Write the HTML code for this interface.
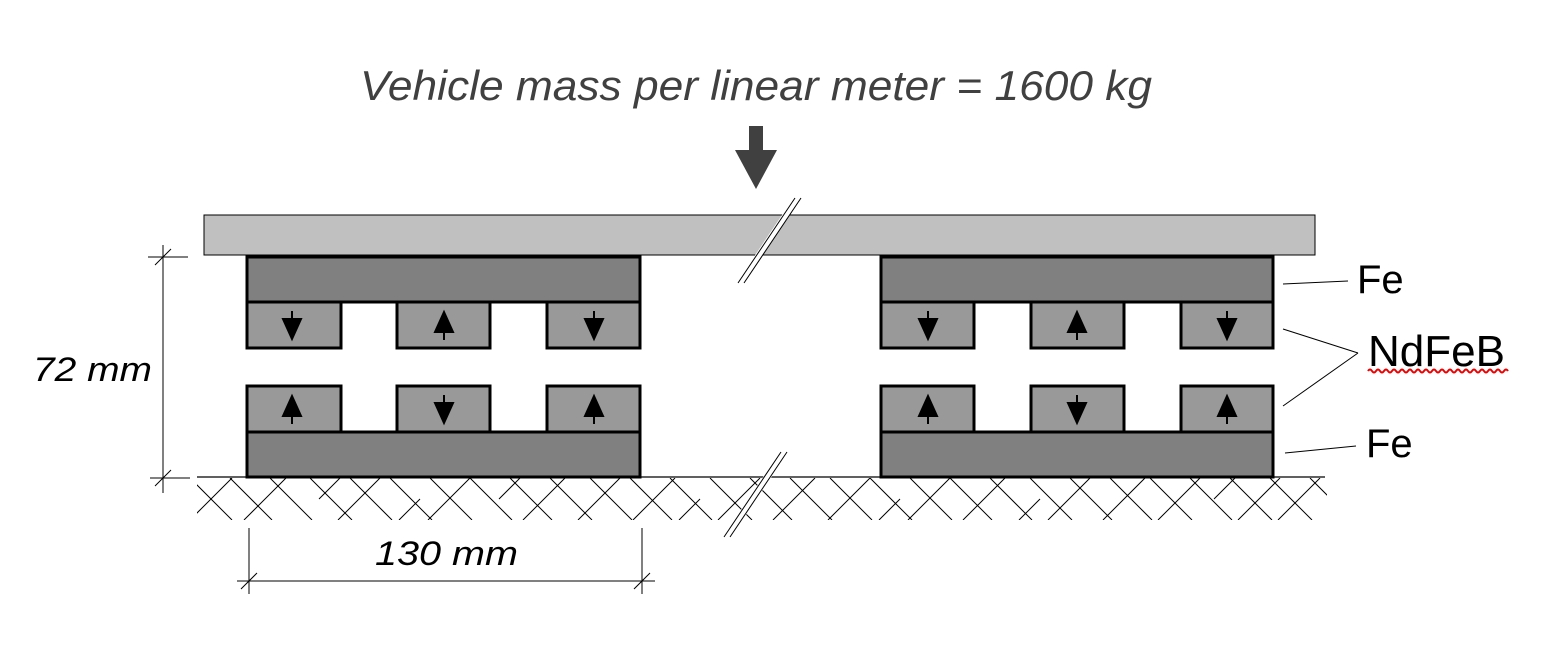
<!DOCTYPE html>
<html><head><meta charset="utf-8"><style>html,body{margin:0;padding:0;background:#fff;}svg{display:block}</style></head>
<body>
<svg width="1554" height="671" viewBox="0 0 1554 671" xmlns="http://www.w3.org/2000/svg">
<defs>
<clipPath id="gc"><rect x="197" y="478" width="1130" height="42"/></clipPath>
</defs>
<text x="360" y="100" font-family="Liberation Sans, sans-serif" font-style="italic" font-size="42" fill="#404040" textLength="792" lengthAdjust="spacingAndGlyphs">Vehicle mass per linear meter = 1600 kg</text>
<rect x="749" y="126" width="14" height="26" fill="#404040"/>
<polygon points="735,150 777,150 756,189" fill="#404040"/>
<rect x="204" y="215" width="1111" height="40" fill="#c0c0c0" stroke="#000" stroke-width="1"/>
<line x1="740" y1="283" x2="797" y2="198" stroke="#fff" stroke-width="6"/>
<line x1="738" y1="283" x2="795" y2="198" stroke="#000" stroke-width="1"/>
<line x1="744" y1="283" x2="801" y2="198" stroke="#000" stroke-width="1"/>
<line x1="197" y1="477" x2="1325" y2="477" stroke="#000" stroke-width="1.2"/>
<g clip-path="url(#gc)" stroke="#000" stroke-width="1">
<path d="M150,478 l42,42 M190,478 l42,42 M230,478 l42,42 M270,478 l42,42 M310,478 l42,42 M350,478 l42,42 M390,478 l42,42 M430,478 l42,42 M470,478 l42,42 M510,478 l42,42 M550,478 l42,42 M590,478 l42,42 M630,478 l42,42 M670,478 l42,42 M710,478 l42,42 M750,478 l42,42 M790,478 l42,42 M830,478 l42,42 M870,478 l42,42 M910,478 l42,42 M950,478 l42,42 M990,478 l42,42 M1030,478 l42,42 M1070,478 l42,42 M1110,478 l42,42 M1150,478 l42,42 M1190,478 l42,42 M1230,478 l42,42 M1270,478 l42,42 M1310,478 l42,42"/>
<path d="M232,478 l-42,42 M286,478 l-42,42 M340,478 l-21,21 M380,478 l-42,42 M420,499 l-21,21 M470,478 l-42,42 M520,478 l-21,21 M565,478 l-42,42 M620,478 l-42,42 M675,478 l-42,42 M700,499 l-21,21 M760,478 l-42,42 M815,478 l-42,42 M870,478 l-42,42 M900,499 l-21,21 M950,478 l-42,42 M1005,478 l-42,42 M1040,499 l-21,21 M1090,478 l-42,42 M1145,478 l-42,42 M1200,478 l-42,42 M1235,478 l-21,21 M1280,478 l-42,42 M1320,478 l-42,42"/>
</g>
<line x1="727" y1="537" x2="784" y2="452" stroke="#fff" stroke-width="7"/>
<line x1="724" y1="537" x2="781" y2="452" stroke="#000" stroke-width="1"/>
<line x1="730" y1="537" x2="787" y2="452" stroke="#000" stroke-width="1"/>
<g stroke="#000" stroke-width="3">
<rect x="247" y="257" width="393" height="45" fill="#808080"/>
<rect x="247" y="302" width="94" height="46" fill="#999"/>
<rect x="397" y="302" width="93" height="46" fill="#999"/>
<rect x="547" y="302" width="93" height="46" fill="#999"/>
<rect x="247" y="386" width="94" height="46" fill="#999"/>
<rect x="397" y="386" width="93" height="46" fill="#999"/>
<rect x="547" y="386" width="93" height="46" fill="#999"/>
<rect x="247" y="432" width="393" height="45" fill="#808080"/>
<rect x="881" y="257" width="392" height="45" fill="#808080"/>
<rect x="881" y="302" width="93" height="46" fill="#999"/>
<rect x="1031" y="302" width="93" height="46" fill="#999"/>
<rect x="1181" y="302" width="92" height="46" fill="#999"/>
<rect x="881" y="386" width="93" height="46" fill="#999"/>
<rect x="1031" y="386" width="93" height="46" fill="#999"/>
<rect x="1181" y="386" width="92" height="46" fill="#999"/>
<rect x="881" y="432" width="392" height="45" fill="#808080"/>
</g>
<g fill="#000" stroke="#000" stroke-width="2">
<path d="M292,311 v8 M283,319 h18 l-9,20 z"/>
<path d="M444,340 v-8 M435,332 h18 l-9,-20 z"/>
<path d="M594,311 v8 M585,319 h18 l-9,20 z"/>
<path d="M292,424 v-8 M283,416 h18 l-9,-20 z"/>
<path d="M444,395 v8 M435,403 h18 l-9,20 z"/>
<path d="M594,424 v-8 M585,416 h18 l-9,-20 z"/>
<path d="M928,311 v8 M919,319 h18 l-9,20 z"/>
<path d="M1077,340 v-8 M1068,332 h18 l-9,-20 z"/>
<path d="M1227,311 v8 M1218,319 h18 l-9,20 z"/>
<path d="M928,424 v-8 M919,416 h18 l-9,-20 z"/>
<path d="M1077,395 v8 M1068,403 h18 l-9,20 z"/>
<path d="M1227,424 v-8 M1218,416 h18 l-9,-20 z"/>
</g>
<g stroke="#000" stroke-width="1" fill="none">
<line x1="1283" y1="284" x2="1348" y2="281"/>
<line x1="1283" y1="329" x2="1358" y2="353"/>
<line x1="1283" y1="406" x2="1358" y2="353"/>
<line x1="1285" y1="453" x2="1356" y2="446"/>
</g>
<g font-family="Liberation Sans, sans-serif" font-size="40" fill="#000">
<text x="1357" y="293">Fe</text>
<text x="1368" y="366" font-size="44" textLength="137" lengthAdjust="spacingAndGlyphs">NdFeB</text>
<text x="1366" y="457">Fe</text>
</g>
<path d="M1368,371 q2,-3 4,0 t4,0 t4,0 t4,0 t4,0 t4,0 t4,0 t4,0 t4,0 t4,0 t4,0 t4,0 t4,0 t4,0 t4,0 t4,0 t4,0 t4,0 t4,0 t4,0 t4,0 t4,0 t4,0 t4,0 t4,0 t4,0 t4,0 t4,0 t4,0 t4,0 t4,0 t4,0 t4,0 t4,0 t4,0" stroke="#e00" stroke-width="2" fill="none"/>
<g stroke="#000" stroke-width="1">
<line x1="163" y1="245" x2="163" y2="493"/>
<line x1="148" y1="257" x2="188" y2="257"/>
<line x1="155" y1="265" x2="171" y2="249"/>
<line x1="150" y1="478" x2="190" y2="478"/>
<line x1="155" y1="486" x2="171" y2="470"/>
<line x1="237" y1="581" x2="655" y2="581"/>
<line x1="249" y1="528" x2="249" y2="594"/>
<line x1="642" y1="528" x2="642" y2="594"/>
<line x1="241" y1="589" x2="257" y2="573"/>
<line x1="634" y1="589" x2="650" y2="573"/>
</g>
<g font-family="Liberation Sans, sans-serif" font-style="italic" font-size="34" fill="#000">
<text x="33" y="381" textLength="119" lengthAdjust="spacingAndGlyphs">72 mm</text>
<text x="375" y="565" textLength="143" lengthAdjust="spacingAndGlyphs">130 mm</text>
</g>
</svg>
</body></html>
